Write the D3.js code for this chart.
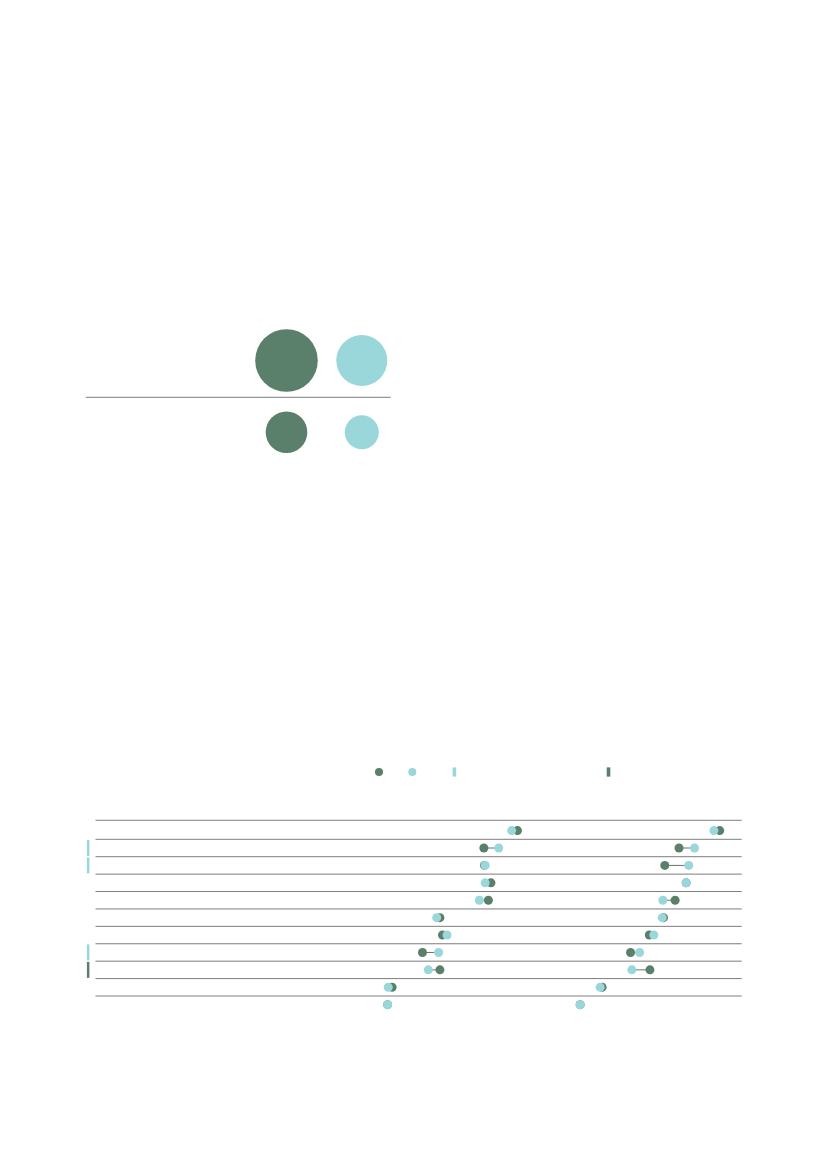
<!DOCTYPE html>
<html>
<head>
<meta charset="utf-8">
<script src="https://cdn.jsdelivr.net/npm/d3@7"></script>
<style>
  html, body { margin: 0; padding: 0; background: #fff; }
  svg { display: block; }
</style>
</head>
<body>
<svg id="chart" width="828" height="1169"></svg>
<script>
// ---- Data ----
const bubbleRows = ["top", "bottom"];
const bubbleSeries = ["dark", "light"];
const bubbleDark = [100, 44.2];
const bubbleLight = [66.4, 29.5];

const rows = ["r1","r2","r3","r4","r5","r6","r7","r8","r9","r10","r11"];
const leftDark  = [65.3, 60.1, 60.2, 61.2, 60.8, 53.3, 53.7, 50.6, 53.3, 45.9, 45.2];
const leftLight = [64.4, 62.4, 60.3, 60.3, 59.4, 52.8, 54.4, 53.1, 51.5, 45.3, 45.2];
const rightDark  = [96.6, 90.3, 88.1, 91.4, 89.7, 87.9, 85.7, 82.8, 85.8, 78.4, 75.0];
const rightLight = [95.7, 92.7, 91.8, 91.4, 87.8, 87.7, 86.4, 84.2, 83.0, 78.1, 75.0];
const rowFlags = [null, "light", "light", null, null, null, null, "light", "dark", null, null];

const legendItems = ["dark", "light", "lightBar", "darkBar"];

// ---- Styles ----
const DARK = "#5a7f6a";
const LIGHT = "#9ad7db";
const RULE = "#7d7d7d";
const colour = { dark: DARK, light: LIGHT };

const svg = d3.select("#chart");

// ---- Bubble block ----
const bx = d3.scalePoint().domain(bubbleSeries).range([286.5, 361.8]);
const by = d3.scalePoint().domain(bubbleRows).range([360.5, 432.3]);
const br = d3.scaleSqrt().domain([0, 100]).range([0, 31.3]);

svg.append("line")
  .attr("x1", 85.7).attr("x2", 390.7)
  .attr("y1", 397.3).attr("y2", 397.3)
  .attr("stroke", RULE).attr("stroke-width", 1);

const bubbleData = [];
bubbleRows.forEach((r, i) => {
  bubbleData.push({ row: r, s: "dark", v: bubbleDark[i] });
  bubbleData.push({ row: r, s: "light", v: bubbleLight[i] });
});
svg.append("g").selectAll("circle").data(bubbleData).join("circle")
  .attr("cx", d => bx(d.s))
  .attr("cy", d => by(d.row))
  .attr("r", d => br(d.v))
  .attr("fill", d => colour[d.s]);

// ---- Legend ----
const lx = d3.scaleOrdinal().domain(legendItems).range([379, 412.3, 454.4, 608.5]);
const ly = 772;
const lg = svg.append("g");
lg.selectAll("circle").data(["dark", "light"]).join("circle")
  .attr("cx", d => lx(d)).attr("cy", ly).attr("r", 4)
  .attr("fill", d => colour[d]);
lg.selectAll("rect").data(["lightBar", "darkBar"]).join("rect")
  .attr("x", d => lx(d) - 1.8).attr("y", ly - 4.6)
  .attr("width", 3.6).attr("height", 9.2)
  .attr("fill", d => d === "lightBar" ? LIGHT : DARK);

// ---- Dot plot ----
const x = d3.scaleLinear().domain([0, 100]).range([95.5, 741.7]);
const step = 17.41;
const y = d3.scaleBand().domain(rows).range([839.3 - step, 839.3 + 10 * step]);
const cy = r => y(r) + 8.7;

const plot = svg.append("g");
// row top rules (the first rule sits slightly higher)
plot.selectAll("line.rule").data(rows).join("line")
  .attr("class", "rule")
  .attr("x1", 95.5).attr("x2", 741.7)
  .attr("y1", (d, i) => y(d) - (i === 0 ? 1.6 : 0))
  .attr("y2", (d, i) => y(d) - (i === 0 ? 1.6 : 0))
  .attr("stroke", RULE).attr("stroke-width", 1);

// row flags
plot.selectAll("rect.flag")
  .data(rows.map((r, i) => ({ r, f: rowFlags[i] })).filter(d => d.f))
  .join("rect").attr("class", "flag")
  .attr("x", 86.9).attr("width", 2.5)
  .attr("y", d => y(d.r) + 0.7).attr("height", y.bandwidth() - 1.4)
  .attr("fill", d => colour[d.f]);

const pairs = [];
rows.forEach((r, i) => {
  pairs.push({ r, d: leftDark[i], l: leftLight[i] });
  pairs.push({ r, d: rightDark[i], l: rightLight[i] });
});

plot.selectAll("line.conn").data(pairs).join("line")
  .attr("class", "conn")
  .attr("x1", p => x(p.d)).attr("x2", p => x(p.l))
  .attr("y1", p => cy(p.r)).attr("y2", p => cy(p.r))
  .attr("stroke", "#6f6f6f").attr("stroke-width", 1);

plot.selectAll("circle.dk").data(pairs).join("circle")
  .attr("class", "dk")
  .attr("cx", p => x(p.d)).attr("cy", p => cy(p.r)).attr("r", 4.5)
  .attr("fill", DARK);

plot.selectAll("circle.lt").data(pairs).join("circle")
  .attr("class", "lt")
  .attr("cx", p => x(p.l)).attr("cy", p => cy(p.r)).attr("r", 4.5)
  .attr("fill", LIGHT);
</script>
</body>
</html>
